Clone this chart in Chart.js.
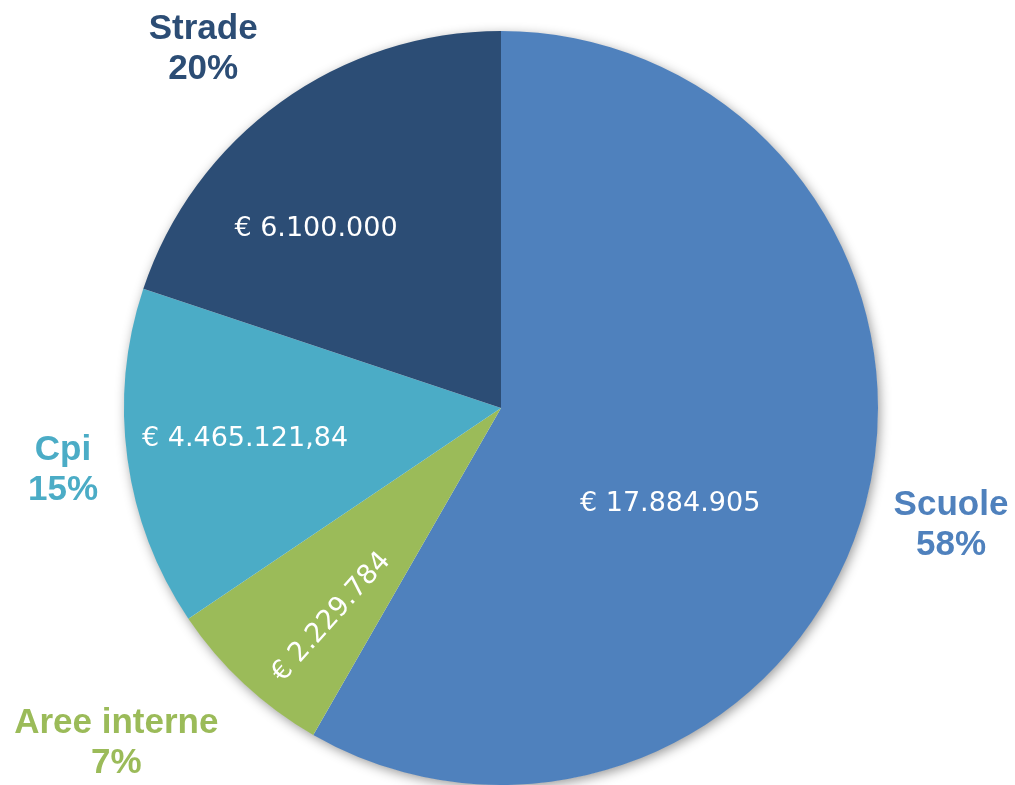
<!DOCTYPE html>
<html>
<head>
<meta charset="utf-8">
<script src="https://cdn.jsdelivr.net/npm/chart.js@4"></script>
<style>
  html, body { margin: 0; padding: 0; background: #ffffff; }
  #wrap { width: 1015px; height: 785px; position: relative; }
</style>
</head>
<body>
<div id="wrap"><canvas id="c" width="1015" height="785"></canvas></div>
<script>
// ---- data ----
const categories = ["Scuole", "Aree interne", "Cpi", "Strade"];
const values = [17884905, 2229784, 4465121.84, 6100000];
const sliceColors = ["#4F81BD", "#9BBB59", "#4BACC6", "#2C4D75"];

// ---- label placement (polar: degrees clockwise from top, radius as fraction of pie radius) ----
const valueLabelPos = [[118.8, 0.512], [219.6, 0.714], [263.8, 0.683], [314.5, 0.688]];
const valueLabelRotate = [false, true, false, false];
const nameLabelPos = [[103.4, 1.227], [229.8, 1.336], [263.2, 1.170], [321.1, 1.258]];

function formatEuro(v) {
  const neg = v < 0;
  v = Math.abs(v);
  let intPart = Math.floor(v);
  let frac = Math.round((v - intPart) * 100);
  if (frac === 100) { intPart += 1; frac = 0; }
  let s = String(intPart).replace(/\B(?=(\d{3})+(?!\d))/g, ".");
  if (frac > 0) s += "," + String(frac).padStart(2, "0");
  return "€ " + (neg ? "-" : "") + s;
}

const total = values.reduce((a, b) => a + b, 0);

const shadowPlugin = {
  id: "pieShadow",
  beforeDatasetsDraw(chart) {
    const arc = chart.getDatasetMeta(0).data[0];
    if (!arc) return;
    const ctx = chart.ctx;
    ctx.save();
    ctx.shadowColor = "rgba(0,0,0,0.42)";
    ctx.shadowBlur = 12;
    ctx.shadowOffsetX = 2;
    ctx.shadowOffsetY = 3;
    ctx.fillStyle = "#ffffff";
    ctx.beginPath();
    ctx.arc(arc.x, arc.y, arc.outerRadius - 0.5, 0, Math.PI * 2);
    ctx.fill();
    ctx.restore();
  }
};

const labelPlugin = {
  id: "pieLabels",
  afterDatasetsDraw(chart) {
    const meta = chart.getDatasetMeta(0);
    const ctx = chart.ctx;
    meta.data.forEach((arc, i) => {
      const cx = arc.x, cy = arc.y, R = arc.outerRadius;
      // value label inside the slice
      const [th, rf] = valueLabelPos[i];
      const a = (th - 90) * Math.PI / 180;
      const px = cx + R * rf * Math.cos(a);
      const py = cy + R * rf * Math.sin(a);
      const fs = 27;
      ctx.save();
      ctx.font = fs + "px 'DejaVu Sans', Verdana, sans-serif";
      ctx.fillStyle = "#ffffff";
      ctx.textAlign = "center";
      ctx.textBaseline = "alphabetic";
      ctx.translate(px, py);
      if (valueLabelRotate[i]) {
        const mid = (arc.startAngle + arc.endAngle) / 2;
        ctx.rotate(mid - Math.PI - 0.02);
      }
      ctx.fillText(formatEuro(values[i]), 0, fs * 0.365);
      ctx.restore();

      // category name + percentage outside
      const [th2, rf2] = nameLabelPos[i];
      const a2 = (th2 - 90) * Math.PI / 180;
      const qx = cx + R * rf2 * Math.cos(a2);
      const qy = cy + R * rf2 * Math.sin(a2);
      ctx.save();
      ctx.font = "bold 35px 'Liberation Sans', Arial, sans-serif";
      ctx.fillStyle = sliceColors[i];
      ctx.textAlign = "center";
      ctx.textBaseline = "alphabetic";
      ctx.fillText(categories[i], qx, qy);
      ctx.fillText(Math.round(values[i] / total * 100) + "%", qx, qy + 40);
      ctx.restore();
    });
  }
};

new Chart(document.getElementById("c"), {
  type: "pie",
  data: {
    labels: categories,
    datasets: [{
      data: values,
      backgroundColor: sliceColors,
      borderWidth: 0,
      hoverOffset: 0
    }]
  },
  options: {
    responsive: false,
    animation: false,
    events: [],
    layout: { padding: { left: 124, right: 137, top: 31, bottom: 0 } },
    plugins: {
      legend: { display: false },
      tooltip: { enabled: false }
    }
  },
  plugins: [shadowPlugin, labelPlugin]
});
</script>
</body>
</html>
